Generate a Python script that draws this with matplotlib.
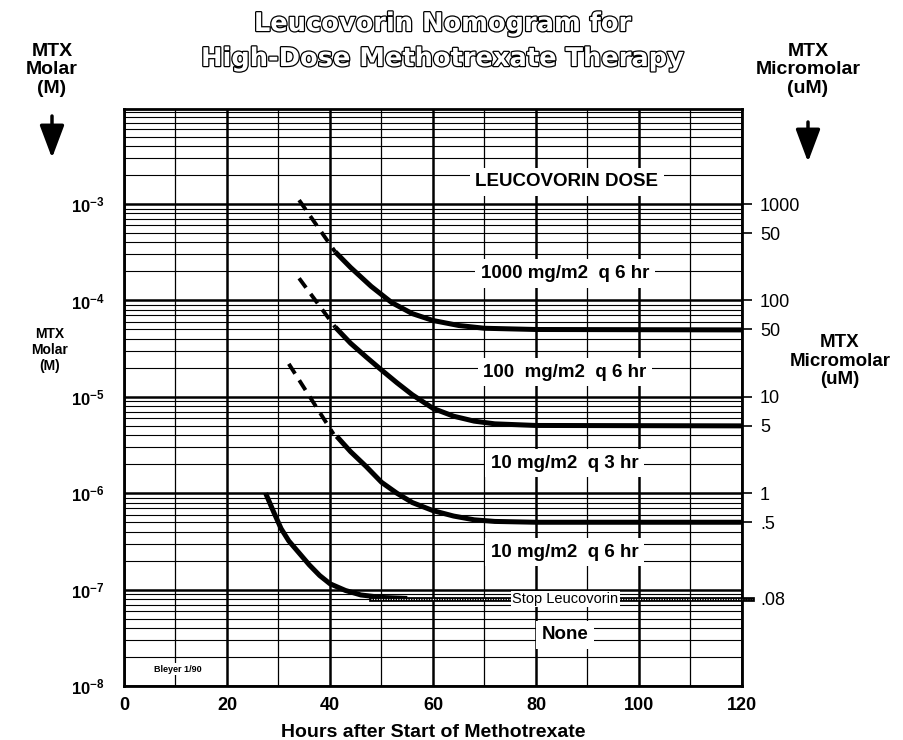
import matplotlib.pyplot as plt
import matplotlib.patheffects as pe
from matplotlib.ticker import LogLocator, FixedLocator, NullLocator, MultipleLocator

plt.rcParams['font.family'] = ['Liberation Sans', 'DejaVu Sans']
plt.rcParams['mathtext.fontset'] = 'custom'
plt.rcParams['mathtext.rm'] = 'Liberation Sans'
plt.rcParams['mathtext.bf'] = 'Liberation Sans:bold'
plt.rcParams['mathtext.default'] = 'bf'

# curves: hours after start, MTX molar
c1_dash_h = [34, 41]
c1_dash_m = [1.1e-3, 3.2e-4]
c1_h = [41, 44, 48, 52, 56, 60, 65, 70, 80, 120]
c1_m = [3.2e-4, 2.2e-4, 1.4e-4, 9.5e-5, 7.3e-5, 6.2e-5, 5.5e-5, 5.15e-5, 5.0e-5, 4.95e-5]

c2_dash_h = [34, 41]
c2_dash_m = [1.7e-4, 5.3e-5]
c2_h = [41, 44, 47, 50, 53, 56, 60, 64, 68, 72, 80, 120]
c2_m = [5.3e-5, 3.6e-5, 2.6e-5, 1.9e-5, 1.4e-5, 1.05e-5, 7.6e-6, 6.3e-6, 5.6e-6, 5.25e-6, 5.05e-6, 5.0e-6]

c3_dash_h = [32, 40.7]
c3_dash_m = [2.2e-5, 4.1e-6]
c3_h = [41.3, 44, 47, 50, 53, 56, 60, 64, 68, 72, 80, 120]
c3_m = [3.9e-6, 2.7e-6, 1.9e-6, 1.3e-6, 1.0e-6, 8.0e-7, 6.6e-7, 5.8e-7, 5.3e-7, 5.1e-7, 5.0e-7, 5.0e-7]

c4_h = [27.5, 29, 30.5, 32, 34, 36, 38, 40, 43, 46, 50, 55]
c4_m = [1.0e-6, 6.5e-7, 4.3e-7, 3.2e-7, 2.4e-7, 1.8e-7, 1.4e-7, 1.15e-7, 9.8e-8, 8.8e-8, 8.3e-8, 8.1e-8]

stop_h = [48, 122]
stop_m = [8e-8, 8e-8]

left_ticks = [1e-3, 1e-4, 1e-5, 1e-6, 1e-7, 1e-8]
left_labels = [r'$10^{-3}$', r'$10^{-4}$', r'$10^{-5}$', r'$10^{-6}$', r'$10^{-7}$', r'$10^{-8}$']
right_ticks = [1e-3, 5e-4, 1e-4, 5e-5, 1e-5, 5e-6, 1e-6, 5e-7, 8e-8]
right_labels = ['1000', '50', '100', '50', '10', '5', '1', '.5', '.08']
hour_ticks = [0, 20, 40, 60, 80, 100, 120]

dose_text = ['LEUCOVORIN DOSE', '1000 mg/m2  q 6 hr', '100  mg/m2  q 6 hr',
             '10 mg/m2  q 3 hr', '10 mg/m2  q 6 hr', 'None']
dose_h = [86, 85.6, 85.6, 85.6, 85.6, 85.6]
dose_m = [1.7e-3, 1.9e-4, 1.8e-5, 2.05e-6, 2.45e-7, 3.4e-8]

fig = plt.figure(figsize=(9.04, 7.4), dpi=100)
ax = fig.add_axes([124 / 904, 1 - 686 / 740, 618 / 904, 577 / 740])
ax.set_yscale('log')
ax.set_xlim(0, 120)
ax.set_ylim(1e-8, 9.7e-3)

# graph paper grid
ax.yaxis.set_major_locator(FixedLocator(left_ticks))
ax.yaxis.set_minor_locator(LogLocator(base=10, subs=[2, 3, 4, 5, 6, 7, 8, 9], numticks=20))
ax.set_yticklabels(left_labels)
ax.set_xticks(hour_ticks)
ax.xaxis.set_minor_locator(MultipleLocator(10))
ax.grid(which='major', axis='y', color='black', lw=1.8)
ax.grid(which='minor', axis='y', color='black', lw=0.8)
ax.grid(which='major', axis='x', color='black', lw=1.8)
ax.grid(which='minor', axis='x', color='black', lw=0.9)
ax.tick_params(axis='y', which='both', length=0, pad=14, labelsize=12)
ax.tick_params(axis='x', which='both', length=0, pad=8, labelsize=13)
for t in ax.get_xticklabels():
    t.set_fontweight('bold')
for s in ax.spines.values():
    s.set_linewidth(2)

# right hand micromolar scale
ax2 = ax.twinx()
ax2.set_yscale('log')
ax2.set_ylim(ax.get_ylim())
ax2.yaxis.set_major_locator(FixedLocator(right_ticks))
ax2.yaxis.set_minor_locator(NullLocator())
ax2.set_yticklabels(right_labels)
ax2.tick_params(axis='y', length=7, width=1.2, pad=6, labelsize=13)
for s in ax2.spines.values():
    s.set_visible(False)

# curves
curve_kw = dict(color='black', lw=3.6, solid_capstyle='butt', zorder=3)
dash_kw = dict(color='black', lw=2.8, ls=(0, (3, 2)), zorder=3)
ax.plot(c1_dash_h, c1_dash_m, **dash_kw)
ax.plot(c1_h, c1_m, **curve_kw)
ax.plot(c2_dash_h, c2_dash_m, **dash_kw)
ax.plot(c2_h, c2_m, **curve_kw)
ax.plot(c3_dash_h, c3_dash_m, **dash_kw)
ax.plot(c3_h, c3_m, **curve_kw)
ax.plot(c4_h, c4_m, **curve_kw)

# stop leucovorin hatched line
ax.plot(stop_h, stop_m, color='black', lw=3.4, clip_on=False, zorder=3)
ax.plot(stop_h, stop_m, color='white', lw=0.8, ls=(0, (1, 1.3)), clip_on=False, zorder=3.1)
ax.text(85.7, 8e-8, 'Stop Leucovorin', fontsize=10.5, ha='center', va='center', zorder=4,
        bbox=dict(facecolor='white', edgecolor='none', pad=1))

for txt, h, m in zip(dose_text, dose_h, dose_m):
    ax.text(h, m, txt, fontsize=13.5, fontweight='bold', ha='center', va='center', zorder=4,
            bbox=dict(facecolor='white', edgecolor='none', pad=4))

ax.text(10.5, 1.5e-8, 'Bleyer 1/90', fontsize=6.5, fontweight='bold', ha='center', va='center',
        zorder=4, bbox=dict(facecolor='white', edgecolor='none', pad=1))

ax.set_xlabel('Hours after Start of Methotrexate', fontsize=14, fontweight='bold', labelpad=7)

# title, outlined
outline = [pe.withStroke(linewidth=1.8, foreground='black')]
fig.text(0.49, 1 - 24 / 740, 'Leucovorin Nomogram for', fontsize=18.5, fontweight='bold',
         family='DejaVu Sans', color='white', ha='center', va='center', path_effects=outline)
fig.text(0.49, 1 - 59 / 740, 'High-Dose Methotrexate Therapy', fontsize=18.5, fontweight='bold',
         family='DejaVu Sans', color='white', ha='center', va='center', path_effects=outline)

# side captions and arrows
fig.text(52 / 904, 1 - 70 / 740, 'MTX\nMolar\n(M)', fontsize=14, fontweight='bold',
         ha='center', va='center', linespacing=1.1)
fig.text(808 / 904, 1 - 70 / 740, 'MTX\nMicromolar\n(uM)', fontsize=14, fontweight='bold',
         ha='center', va='center', linespacing=1.1)
fig.text(50 / 904, 1 - 350 / 740, 'MTX\nMolar\n(M)', fontsize=10, fontweight='bold',
         ha='center', va='center', linespacing=1.2)
fig.text(840 / 904, 1 - 361 / 740, 'MTX\nMicromolar\n(uM)', fontsize=13.5, fontweight='bold',
         ha='center', va='center', linespacing=1.15)

arrow = dict(arrowstyle='-|>,head_length=0.8,head_width=0.3', lw=2.5, color='black',
             mutation_scale=25, shrinkA=0, shrinkB=0)
ax.annotate('', xy=(52 / 904, 1 - 158 / 740), xytext=(52 / 904, 1 - 116 / 740),
            xycoords='figure fraction', textcoords='figure fraction', arrowprops=arrow)
ax.annotate('', xy=(808 / 904, 1 - 162 / 740), xytext=(808 / 904, 1 - 122 / 740),
            xycoords='figure fraction', textcoords='figure fraction', arrowprops=arrow)

fig.savefig('out.png', dpi=100)
